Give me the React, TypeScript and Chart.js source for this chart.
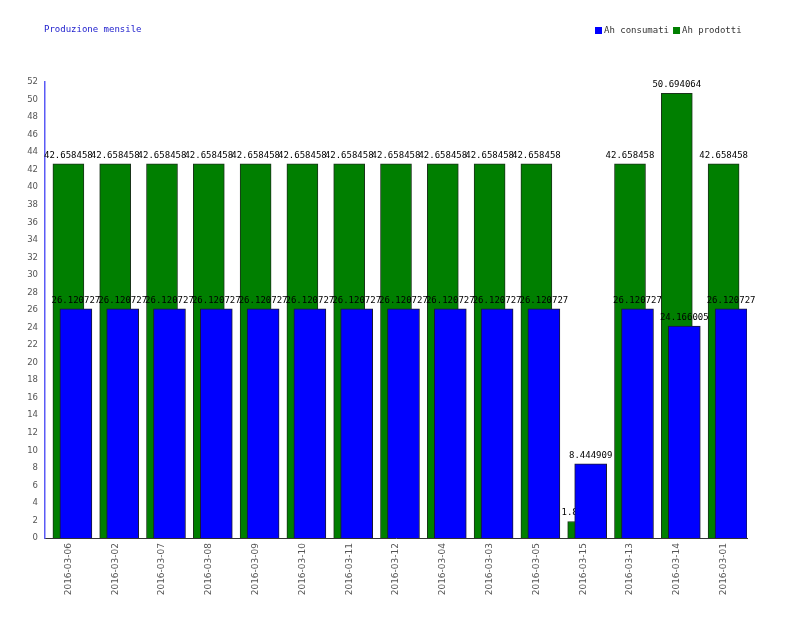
import React, { useEffect, useRef } from "react";
import { Chart, registerables } from "chart.js";

Chart.register(...registerables);

const title = "Produzione mensile";
const categories = [
  "2016-03-06", "2016-03-02", "2016-03-07", "2016-03-08", "2016-03-09",
  "2016-03-10", "2016-03-11", "2016-03-12", "2016-03-04", "2016-03-03",
  "2016-03-05", "2016-03-15", "2016-03-13", "2016-03-14", "2016-03-01",
];
const consumati = [
  26.120727, 26.120727, 26.120727, 26.120727, 26.120727,
  26.120727, 26.120727, 26.120727, 26.120727, 26.120727,
  26.120727, 8.444909, 26.120727, 24.166005, 26.120727,
];
const prodotti = [
  42.658458, 42.658458, 42.658458, 42.658458, 42.658458,
  42.658458, 42.658458, 42.658458, 42.658458, 42.658458,
  42.658458, 1.881818, 42.658458, 50.694064, 42.658458,
];
const yMax = 52;
const yStep = 2;

const MONO = "'DejaVu Sans Mono', 'Liberation Mono', monospace";
const SANS = "'DejaVu Sans', sans-serif";

const valueLabels = {
  id: "valueLabels",
  afterDatasetDraw(chart: any, args: any) {
    const ctx = chart.ctx;
    const ds = chart.data.datasets[args.index];
    ctx.save();
    ctx.font = `9px ${MONO}`;
    ctx.fillStyle = "#000";
    ctx.textAlign = "center";
    ctx.textBaseline = "alphabetic";
    args.meta.data.forEach((el: any, i: number) => {
      const v = ds.data[i].y;
      ctx.fillText(String(v), el.x, el.y - 6);
    });
    ctx.restore();
  },
};

const titleLegend = {
  id: "titleLegend",
  afterDraw(chart: any) {
    const ctx = chart.ctx;
    ctx.save();
    ctx.font = `9px ${MONO}`;
    ctx.textBaseline = "middle";
    ctx.textAlign = "left";
    ctx.fillStyle = "#1a1acc";
    ctx.fillText(title, 44, 30);
    let x = 595;
    chart.data.datasets.forEach((ds: any) => {
      ctx.fillStyle = ds.backgroundColor;
      ctx.fillRect(x, 27, 7, 7);
      ctx.fillStyle = "#333";
      ctx.fillText(ds.label, x + 9, 30.5);
      x += 9 + ctx.measureText(ds.label).width + 4;
    });
    ctx.restore();
  },
};

export default function App() {
  const ref = useRef<HTMLCanvasElement>(null);
  useEffect(() => {
    if (!ref.current) return;
    const chart = new Chart(ref.current, {
      type: "bar",
      data: {
        datasets: [
          {
            label: "Ah consumati",
            data: consumati.map((v, i) => ({ x: i + 0.66, y: v })),
            backgroundColor: "#0000ff",
            borderColor: "#1a1a33",
            borderWidth: 1,
            barThickness: 32,
            grouped: false,
          } as any,
          {
            label: "Ah prodotti",
            data: prodotti.map((v, i) => ({ x: i + 0.5, y: v })),
            backgroundColor: "#007f00",
            borderColor: "#1a331a",
            borderWidth: 1,
            barThickness: 31,
            grouped: false,
          } as any,
        ],
      },
      options: {
        responsive: false,
        animation: false,
        layout: { padding: { left: 0, right: 53, top: 82, bottom: 0 } },
        plugins: {
          legend: { display: false },
          title: { display: false },
          tooltip: { enabled: false },
        },
        scales: {
          x: {
            type: "linear",
            min: 0,
            max: categories.length,
            offset: false,
            grid: { display: false, drawTicks: false },
            border: { display: true, color: "#333", width: 1 },
            afterBuildTicks: (scale: any) => {
              scale.ticks = categories.map((_, i) => ({ value: i + 0.5 }));
            },
            afterFit: (scale: any) => {
              scale.height = 94;
            },
            ticks: {
              autoSkip: false,
              maxRotation: 90,
              minRotation: 90,
              padding: 5,
              color: "#555",
              font: { family: SANS, size: 9 },
              callback: (v: any) => categories[Math.round(Number(v) - 0.5)],
            },
          } as any,
          y: {
            min: 0,
            max: yMax,
            grid: { display: false, drawTicks: false },
            border: { display: true, color: "#5a5af5", width: 1.5 },
            afterFit: (scale: any) => {
              scale.width = 45;
            },
            ticks: {
              stepSize: yStep,
              padding: 7,
              color: "#555",
              font: { family: SANS, size: 8.5 },
            },
          },
        },
      },
      plugins: [valueLabels, titleLegend],
    });
    return () => chart.destroy();
  }, []);
  return (
    <div style={{ position: "absolute", left: 0, top: 0, width: 800, height: 632, background: "#fff" }}>
      <canvas ref={ref} width={800} height={632} style={{ width: 800, height: 632 }} />
    </div>
  );
}
